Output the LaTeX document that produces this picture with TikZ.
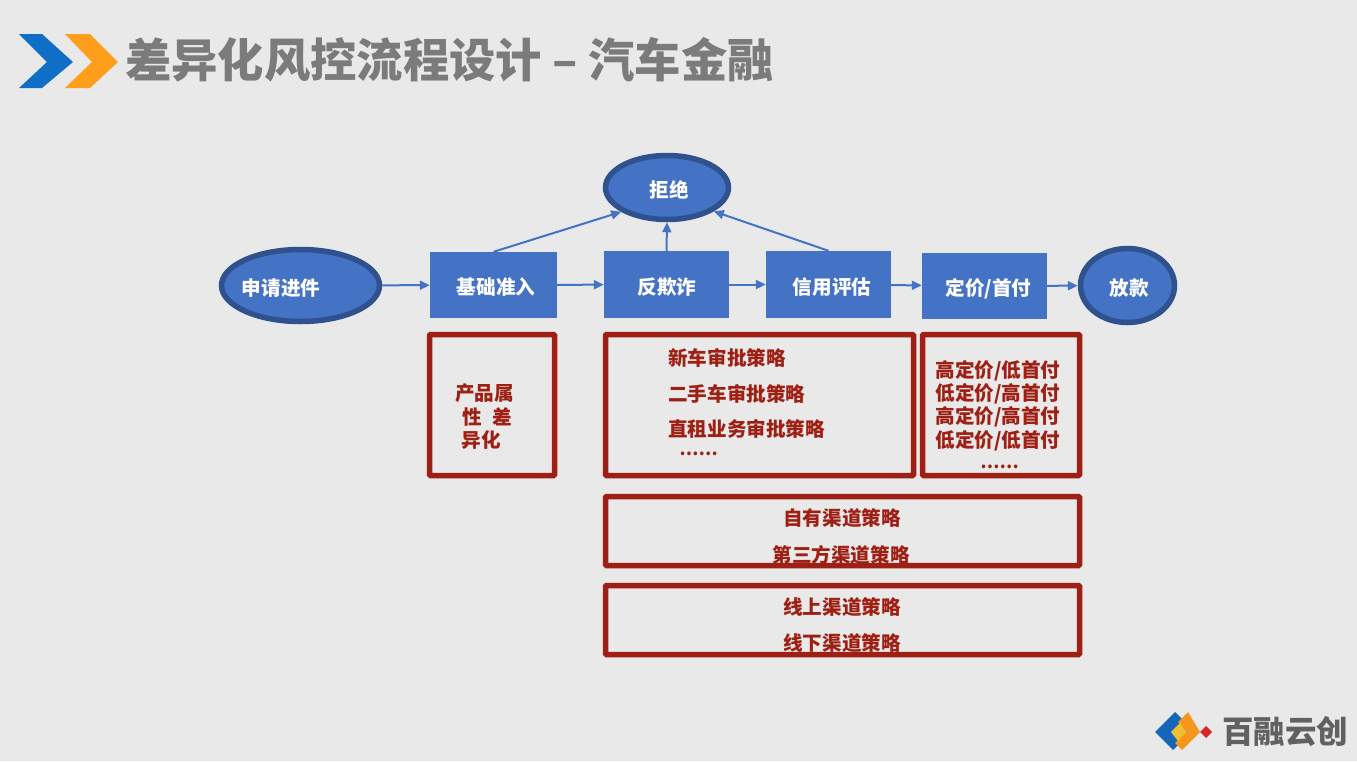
\documentclass[tikz,border=0pt]{standalone}
\usepackage{fontspec}
\setmainfont{Noto Sans CJK SC}
\usetikzlibrary{shapes.geometric,arrows.meta}
\definecolor{bgc}{HTML}{E9E9E9}
\definecolor{flowfill}{HTML}{4472C4}
\definecolor{flowedge}{HTML}{2F528F}
\definecolor{redc}{HTML}{9E1F14}
\definecolor{titlec}{HTML}{7B7B7B}
\newcommand{\flowtext}[2]{\raisebox{-9.6pt}[0pt][0pt]{\makebox[0pt][c]{\hspace*{#1}#2}}}
\tikzset{
  x=1pt,y=-1pt,
  every node/.style={inner sep=0pt,font=\fontsize{19.6}{19.6}\selectfont\bfseries},
  flowbox/.style={rectangle,fill=flowfill,text=white,anchor=center},
  flowoval/.style={ellipse,fill=flowfill,draw=flowedge,line width=5.5pt,text=white},
  redbox/.style={rectangle,draw=redc,line width=5.5pt,rounded corners=1pt},
  redtext/.style={text=redc},
  dotstext/.style={text=redc,font=\fontsize{17}{17}\selectfont\bfseries},
  link/.style={draw=flowfill,line width=2pt,-{Triangle[length=10pt,width=9pt]}}
}
\begin{document}
\begin{tikzpicture}
\useasboundingbox (0,0) rectangle (1357,761);
\fill[bgc] (0,0) rectangle (1357,761);
% header
\fill[fill={rgb,255:red,15;green,111;blue,198}] (19,34)--(42,34)--(73,62)--(42,88)--(19,88)--(47,62)--cycle;
\fill[fill={rgb,255:red,255;green,158;blue,27}] (65,34)--(90,34)--(118,62)--(90,88)--(65,88)--(92,62)--cycle;
\node[anchor=west,text=titlec,font=\fontsize{46.3}{47}\selectfont\bfseries] (title) at (125,60) {差异化风控流程设计 – 汽车金融};
% flow nodes
\node[flowoval,minimum width=158pt,minimum height=72pt] (apply) at (300.5,285.5) {\flowtext{-39pt}{申请进件}};
\node[flowbox,minimum width=127pt,minimum height=66pt] (base) at (493.5,285) {\flowtext{5pt}{基础准入}};
\node[flowbox,minimum width=125pt,minimum height=67pt] (fraud) at (666.5,284.5) {\flowtext{1pt}{反欺诈}};
\node[flowbox,minimum width=125pt,minimum height=67pt] (credit) at (828.5,284.5) {\flowtext{7pt}{信用评估}};
\node[flowbox,minimum width=125pt,minimum height=66pt] (price) at (984.5,286) {\flowtext{8pt}{定价/首付}};
\node[flowoval,minimum width=94pt,minimum height=74pt] (loan) at (1127.5,285.5) {\flowtext{3pt}{放款}};
\node[flowoval,minimum width=123pt,minimum height=64pt] (reject) at (667,187.5) {\flowtext{4pt}{拒绝}};
% connectors
\draw[link] (apply) -- (base);
\draw[link] (base) -- (fraud);
\draw[link] (fraud) -- (credit);
\draw[link] (credit) -- (price);
\draw[link] (price) -- (loan);
\draw[link] (base.north) -- (reject.208);
\draw[link] (fraud.north) -- (reject.south);
\draw[link] (credit.north) -- (reject.333);
% red boxes
\node[redbox,minimum width=125pt,minimum height=141pt] (boxa) at (492,405) {};
\node[redbox,minimum width=308pt,minimum height=141pt] (boxb) at (759.5,405) {};
\node[redbox,minimum width=157pt,minimum height=141pt] (boxc) at (1001,405) {};
\node[redbox,minimum width=474pt,minimum height=69pt] (boxd) at (842.5,531) {};
\node[redbox,minimum width=474pt,minimum height=69pt] (boxe) at (842.5,620) {};
% red texts
\node[redtext] (ta1) at (484.5,393.5) {产品属};
\node[redtext] (ta2) at (487.5,417) {性\hspace{10pt}差};
\node[redtext] (ta3) at (481,440) {异化};
\node[redtext,anchor=west] (tb1) at (668,358) {新车审批策略};
\node[redtext,anchor=west] (tb2) at (668,393.5) {二手车审批策略};
\node[redtext,anchor=west] (tb3) at (668,429) {直租业务审批策略};
\node[dotstext] (tb4) at (698.5,454) {……};
\node[redtext] (tc1) at (998,371) {高定价/低首付};
\node[redtext] (tc2) at (998,393.5) {低定价/高首付};
\node[redtext] (tc3) at (998,417) {高定价/高首付};
\node[redtext] (tc4) at (998,441) {低定价/低首付};
\node[dotstext] (tc5) at (999.5,467) {……};
\node[redtext] (td1) at (842,518) {自有渠道策略};
\node[redtext] (td2) at (841,554.5) {第三方渠道策略};
\node[redtext] (te1) at (842,607) {线上渠道策略};
\node[redtext] (te2) at (842,643) {线下渠道策略};
% logo
\fill[fill={rgb,255:red,21;green,101;blue,184}] (1155,732)--(1175,712)--(1183,720)--(1171,732)--(1181,742)--(1173,750)--cycle;
\fill[fill={rgb,255:red,245;green,150;blue,30}] (1188,712)--(1200,732)--(1182,750)--(1175,743)--(1186,732)--(1178,722)--cycle;
\fill[fill={rgb,255:red,240;green,190;blue,50}] (1171,732)--(1180,723)--(1186,732)--(1178,741)--cycle;
\fill[fill={rgb,255:red,218;green,37;blue,37}] (1206,726)--(1212,732)--(1206,738)--(1200,732)--cycle;
\node[anchor=west,text=black!62,font=\fontsize{31.5}{32}\selectfont\bfseries] (logotext) at (1222,732) {百融云创};
\end{tikzpicture}
\end{document}
